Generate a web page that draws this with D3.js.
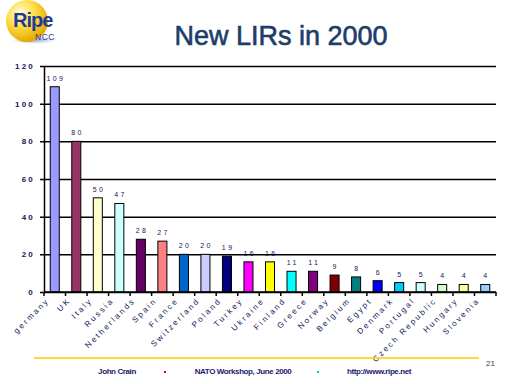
<!DOCTYPE html>
<html>
<head>
<meta charset="utf-8">
<script src="https://cdn.jsdelivr.net/npm/d3@7"></script>
<style>
  body { margin: 0; background: #ffffff; }
  svg { display: block; font-family: "Liberation Sans", Arial, sans-serif; }
</style>
</head>
<body>
<div class="chart"></div>
<script>
"use strict";
(function(){

    // ---- data ----
    let countries = ["germany", "UK", "Italy", "Russia", "Netherlands", "Spain", "France",
        "Switzerland", "Poland", "Turkey", "Ukraine", "Finland", "Greece", "Norway",
        "Belgium", "Egypt", "Denmark", "Portugal", "Czech Republic", "Hungary", "Slovenia"];
    let new_lirs = [109, 80, 50, 47, 28, 27, 20, 20, 19, 16, 16, 11, 11, 9, 8, 6, 5, 5, 4, 4, 4];
    let bar_colors = ["#9999ff", "#993366", "#ffffcc", "#ccffff", "#660066", "#ff8080", "#0066cc",
        "#ccccff", "#000080", "#ff00ff", "#ffff00", "#00ffff", "#800080", "#800000",
        "#008080", "#0000ff", "#00ccff", "#ccffff", "#ccffcc", "#ffff99", "#99ccff"];
    let y_ticks = [0, 20, 40, 60, 80, 100, 120];
    let footer_items = ["John Crain", "NATO Workshop, June 2000", "http://www.ripe.net"];

    let width = 512, height = 384;
    let plot = {left: 44, right: 496, top: 66, bottom: 292};
    let ink = "#10205a";

    let svg = d3.select(".chart").append("svg")
        .attr("width", width)
        .attr("height", height);

    // ---- logo ----
    let defs = svg.append("defs");
    let grad = defs.append("radialGradient").attr("id", "ball")
        .attr("cx", "35%").attr("cy", "30%").attr("r", "70%");
    grad.append("stop").attr("offset", "0%").attr("stop-color", "#fffbe0");
    grad.append("stop").attr("offset", "45%").attr("stop-color", "#ffe14a");
    grad.append("stop").attr("offset", "100%").attr("stop-color", "#e8a800");
    let shade = defs.append("radialGradient").attr("id", "shade");
    shade.append("stop").attr("offset", "0%").attr("stop-color", "#9aa6d8");
    shade.append("stop").attr("offset", "100%").attr("stop-color", "#ffffff");

    svg.append("ellipse").attr("cx", 34).attr("cy", 40).attr("rx", 22).attr("ry", 4)
        .attr("fill", "url(#shade)");
    svg.append("circle").attr("cx", 27).attr("cy", 21).attr("r", 21)
        .attr("fill", "url(#ball)");
    svg.append("text").attr("x", 13).attr("y", 27)
        .attr("font-size", 20).attr("font-weight", "bold").attr("fill", "#1c3a9a")
        .attr("letter-spacing", -1)
        .text("Ripe");
    svg.append("text").attr("x", 35).attr("y", 40)
        .attr("font-size", 8.5).attr("fill", "#1c3a9a")
        .attr("letter-spacing", 0.5)
        .text("NCC");

    // ---- title ----
    svg.append("text")
        .attr("x", 281).attr("y", 45)
        .attr("text-anchor", "middle")
        .attr("font-size", 27)
        .attr("fill", "#203c68")
        .attr("stroke", "#203c68")
        .attr("stroke-width", 0.6)
        .text("New LIRs in 2000");

    // ---- scales ----
    let x_scale = d3.scaleBand()
        .domain(countries)
        .range([plot.left, plot.right])
        .paddingInner(0.58)
        .paddingOuter(0.29);

    let y_scale = d3.scaleLinear()
        .domain([0, 120])
        .range([plot.bottom, plot.top]);

    // ---- gridlines + y axis ----
    let y_axis = svg.append("g")
        .attr("transform", "translate(" + plot.left + ",0)")
        .call(d3.axisLeft(y_scale).tickValues(y_ticks)
            .tickSizeInner(-(plot.right - plot.left))
            .tickSizeOuter(0)
            .tickFormat(d3.format("d")));
    y_axis.select(".domain").attr("stroke", "#000").attr("stroke-width", 1.5);
    y_axis.selectAll(".tick line")
        .attr("x1", -4)
        .attr("stroke", "#000").attr("stroke-width", 1.5);
    y_axis.selectAll(".tick text")
        .attr("x", -9)
        .attr("font-size", 8)
        .attr("font-weight", "bold")
        .attr("letter-spacing", 2.2)
        .attr("fill", ink)
        .attr("font-family", "Liberation Sans, Arial, sans-serif");

    // ---- bars ----
    svg.selectAll(".bar")
        .data(new_lirs)
        .enter().append("rect")
        .attr("class", "bar")
        .attr("x", function(d, i) { return x_scale(countries[i]); })
        .attr("y", function(d) { return y_scale(d); })
        .attr("width", x_scale.bandwidth())
        .attr("height", function(d) { return y_scale(0) - y_scale(d); })
        .attr("fill", function(d, i) { return bar_colors[i]; })
        .attr("stroke", "#000")
        .attr("stroke-width", 1);

    // value labels
    svg.selectAll(".val")
        .data(new_lirs)
        .enter().append("text")
        .attr("class", "val")
        .attr("x", function(d, i) { return x_scale(countries[i]) + x_scale.bandwidth() / 2 + 1.2; })
        .attr("y", function(d) { return y_scale(d) - 6; })
        .attr("text-anchor", "middle")
        .attr("font-size", 7)
        .attr("letter-spacing", 2.4)
        .attr("fill", ink)
        .text(function(d) { return d; });

    // ---- x axis ----
    let step = x_scale.step();
    let x_axis = svg.append("g");
    x_axis.append("line")
        .attr("x1", plot.left).attr("x2", plot.right)
        .attr("y1", plot.bottom).attr("y2", plot.bottom)
        .attr("stroke", "#000").attr("stroke-width", 1.5);
    x_axis.selectAll(".xtick")
        .data(d3.range(countries.length + 1))
        .enter().append("line")
        .attr("class", "xtick")
        .attr("x1", function(i) { return plot.left + i * step; })
        .attr("x2", function(i) { return plot.left + i * step; })
        .attr("y1", plot.bottom).attr("y2", plot.bottom + 4)
        .attr("stroke", "#000").attr("stroke-width", 1.5);

    x_axis.selectAll(".xlabel")
        .data(countries)
        .enter().append("text")
        .attr("class", "xlabel")
        .attr("transform", function(d) {
            let cx = x_scale(d) + x_scale.bandwidth() / 2 - 5;
            return "translate(" + cx + "," + (plot.bottom + 9) + ") rotate(-45)";
        })
        .attr("text-anchor", "end")
        .attr("font-size", 8)
        .attr("letter-spacing", 2.2)
        .attr("fill", ink)
        .text(function(d) { return d; });

    // ---- footer ----
    svg.append("line")
        .attr("x1", 34).attr("x2", 479)
        .attr("y1", 358).attr("y2", 358)
        .attr("stroke", "#ffcc00").attr("stroke-width", 1.5);
    svg.append("text")
        .attr("x", 486).attr("y", 366)
        .attr("font-size", 8).attr("fill", "#1f4a5a")
        .text("21");

    let footer_x = [117, 243, 379];
    svg.selectAll(".foot")
        .data(footer_items)
        .enter().append("text")
        .attr("class", "foot")
        .attr("x", function(d, i) { return footer_x[i]; })
        .attr("y", 374)
        .attr("text-anchor", "middle")
        .attr("font-size", 8)
        .attr("font-weight", "bold")
        .attr("letter-spacing", -0.4)
        .attr("font-family", "'Liberation Sans Narrow', 'Arial Narrow', sans-serif")
        .attr("fill", "#1a1a6a")
        .text(function(d) { return d; });
    svg.append("rect").attr("x", 164).attr("y", 371).attr("width", 2).attr("height", 2).attr("fill", "#cc0033");
    svg.append("rect").attr("x", 317).attr("y", 371).attr("width", 2).attr("height", 2).attr("fill", "#00cccc");

})();
</script>
</body>
</html>
